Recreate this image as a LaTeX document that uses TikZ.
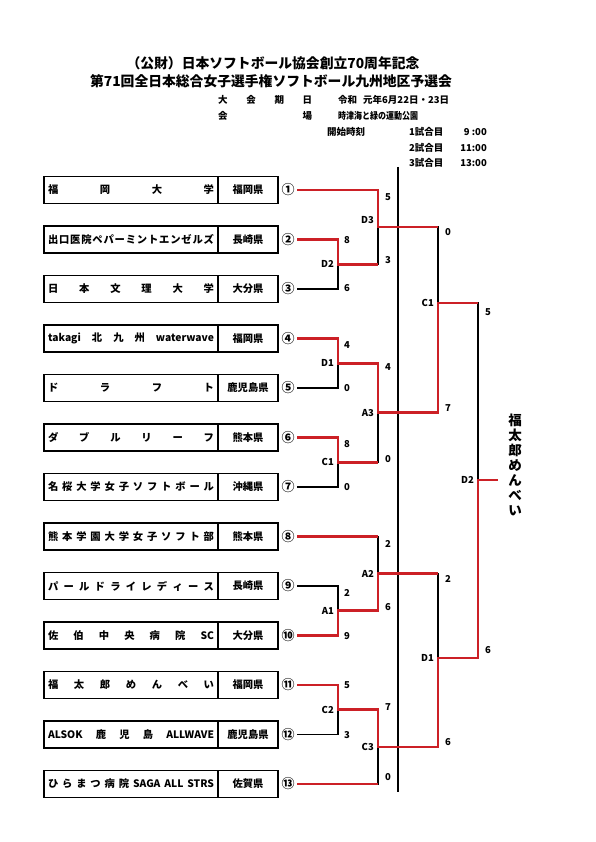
\documentclass[tikz,border=0pt]{standalone}
\usepackage{fontspec}
\usepackage{graphicx}
\setmainfont{Noto Sans CJK JP}
\definecolor{bracketred}{RGB}{204,32,38}

\begin{document}
\begin{tikzpicture}[x=1pt,y=-1pt,font=\bfseries,
  team/.style={draw,line width=1.6pt,outer sep=0pt,inner sep=0pt,minimum height=27pt},
  arm/.style={line width=1.1pt},
  won/.style={bracketred,line width=2.7pt},
  score/.style={font=\fontsize{9.5}{9.5}\selectfont\bfseries,inner sep=0pt},
  match/.style={font=\fontsize{9.5}{9.5}\selectfont\bfseries,anchor=east,inner sep=0pt,xshift=-4pt},
  info/.style={font=\fontsize{9.5}{10}\selectfont\bfseries,inner sep=0pt,anchor=west}]

\useasboundingbox (0,0) rectangle (595,842);

\node[font=\fontsize{13.8}{14}\selectfont\bfseries] (title1) at (273,63) {（公財）日本ソフトボール協会創立70周年記念};
\node[font=\fontsize{13.8}{14}\selectfont\bfseries] (title2) at (271,81) {第71回全日本総合女子選手権ソフトボール九州地区予選会};

\node[info] (dayhead) at (218,100) {\makebox[94pt]{大\hfill 会\hfill 期\hfill 日}};
\node[info] (day) at (338,100) {令和\hspace{6pt}元年6月22日・23日};
\node[info] (sitehead) at (218,116) {\makebox[94pt]{会\hfill 場}};
\node[info] (site) at (338,116) {\scalebox{0.84}[1]{時津海と緑の運動公園}};
\node[info] (starthead) at (327,132) {開始時刻};
\foreach \g/\t/\y in {1/9 :00/132,2/11:00/148,3/13:00/163}{
  \node[info] (game\g) at (409,\y) {\g 試合目};
  \node[info,anchor=east] (time\g) at (487,\y) {\t};
}

\foreach \i/\c/\nm/\pf in {
  1/①/{福\hfill 岡\hfill 大\hfill 学}/福岡県,
  2/②/{出\hfill 口\hfill 医\hfill 院\hfill ペ\hfill パ\hfill ー\hfill ミ\hfill ン\hfill ト\hfill エ\hfill ン\hfill ゼ\hfill ル\hfill ズ}/長崎県,
  3/③/{日\hfill 本\hfill 文\hfill 理\hfill 大\hfill 学}/大分県,
  4/④/{takagi\hfill 北\hfill 九\hfill 州\hfill waterwave}/福岡県,
  5/⑤/{ド\hfill ラ\hfill フ\hfill ト}/鹿児島県,
  6/⑥/{ダ\hfill ブ\hfill ル\hfill リ\hfill ー\hfill フ}/熊本県,
  7/⑦/{名\hfill 桜\hfill 大\hfill 学\hfill 女\hfill 子\hfill ソ\hfill フ\hfill ト\hfill ボ\hfill ー\hfill ル}/沖縄県,
  8/⑧/{熊\hfill 本\hfill 学\hfill 園\hfill 大\hfill 学\hfill 女\hfill 子\hfill ソ\hfill フ\hfill ト\hfill 部}/熊本県,
  9/⑨/{パ\hfill ー\hfill ル\hfill ド\hfill ラ\hfill イ\hfill レ\hfill デ\hfill ィ\hfill ー\hfill ス}/長崎県,
  10/⑩/{佐\hfill 伯\hfill 中\hfill 央\hfill 病\hfill 院\hfill SC}/大分県,
  11/⑪/{福\hfill 太\hfill 郎\hfill め\hfill ん\hfill べ\hfill い}/福岡県,
  12/⑫/{ALSOK\hfill 鹿\hfill 児\hfill 島\hfill ALLWAVE}/鹿児島県,
  13/⑬/{ひ\hfill ら\hfill ま\hfill つ\hfill 病\hfill 院\hfill SAGA\hfill ALL\hfill STRS}/佐賀県}{
  \node[team,minimum width=174pt,font=\fontsize{10.3}{11}\selectfont\bfseries] (name\i) at (131,{190+(\i-1)*49.5}) {\makebox[166pt]{\nm}};
  \node[team,minimum width=60pt,font=\fontsize{10.3}{11}\selectfont\bfseries] (pref\i) at (248,{190+(\i-1)*49.5}) {\pf};
  \node[font=\fontsize{13}{13}\selectfont\bfseries,inner sep=0pt] (num\i) at (288,{190+(\i-1)*49.5}) {\c};
  \coordinate (s\i) at (297,{190+(\i-1)*49.5});
}

\coordinate (jD2) at (338,264.25);
\coordinate (jD1) at (338,363.25);
\coordinate (jC1) at (338,462.25);
\coordinate (jA1) at (338,610.75);
\coordinate (jC2) at (338,709.75);
\coordinate (jD3) at (378,227);
\coordinate (jA3) at (378,412.75);
\coordinate (jA2) at (378,573.6);
\coordinate (jC3) at (378,746.9);
\coordinate (jC1b) at (438,303);
\coordinate (jD1b) at (438,658);
\coordinate (jDF) at (478,480);
\coordinate (champ) at (498,480);
\coordinate (divtop) at (398,167);
\coordinate (divbot) at (398,792);

\foreach \a/\j in {s2/jD2,s3/jD2,s4/jD1,s5/jD1,s6/jC1,s7/jC1,s9/jA1,s10/jA1,s11/jC2,s12/jC2,
  s1/jD3,jD2/jD3,jD1/jA3,jC1/jA3,s8/jA2,jA1/jA2,jC2/jC3,s13/jC3,
  jD3/jC1b,jA3/jC1b,jA2/jD1b,jC3/jD1b,jC1b/jDF,jD1b/jDF}
  \draw[arm] (\a) -| (\j);

\draw[line width=1.4pt] (divtop) -- (divbot);

\draw[won] (s1) -| (jD3) -- (jD3 -| jC1b);
\draw[won] (s2) -| (jD2) -- (jD2 -| jD3);
\draw[won] (s4) -| (jD1) -| (jA3) -| (jC1b) -- (jC1b -| jDF);
\draw[won] (s6) -| (jC1) -- (jC1 -| jA3);
\draw[won] (s8) -- (s8 -| jA2);
\draw[won] (s10) -| (jA1) -| (jA2) -- (jA2 -| jD1b);
\draw[won] (s11) -| (jC2) -| (jC3) -| (jD1b) -| (jDF) -- (champ);
\draw[won] (s13) -- (s13 -| jC3);

\foreach \j/\t in {jD2/D2,jD1/D1,jC1/C1,jA1/A1,jC2/C2,jA3/A3,jA2/A2,jC3/C3,jC1b/C1,jD1b/D1,jDF/D2}
  \node[match] (lab\j) at (\j) {\t};
\node[match,yshift=7pt] (labjD3) at (jD3) {D3};

\foreach \n/\x/\y/\s in {1/347/240/8,2/347/288/6,3/347/345/4,4/347/388/0,5/347/444/8,6/347/487/0,
  7/347/593/2,8/347/636/9,9/347/685/5,10/347/735/3,11/388/197/5,12/388/260/3,
  13/388/367/4,14/388/459/0,15/388/544/2,16/388/607/6,17/388/707/7,18/388/777/0,
  19/448/232/0,20/448/408/7,21/448/579/2,22/448/742/6,23/488/312/5,24/488/650/6}
  \node[score] (score\n) at (\x,\y) {\s};

\node[font=\fontsize{13.5}{14.9}\selectfont\bfseries,align=center,inner sep=0pt] (champname) at (515,465) {福\\太\\郎\\め\\ん\\べ\\い};
\end{tikzpicture}
\end{document}
